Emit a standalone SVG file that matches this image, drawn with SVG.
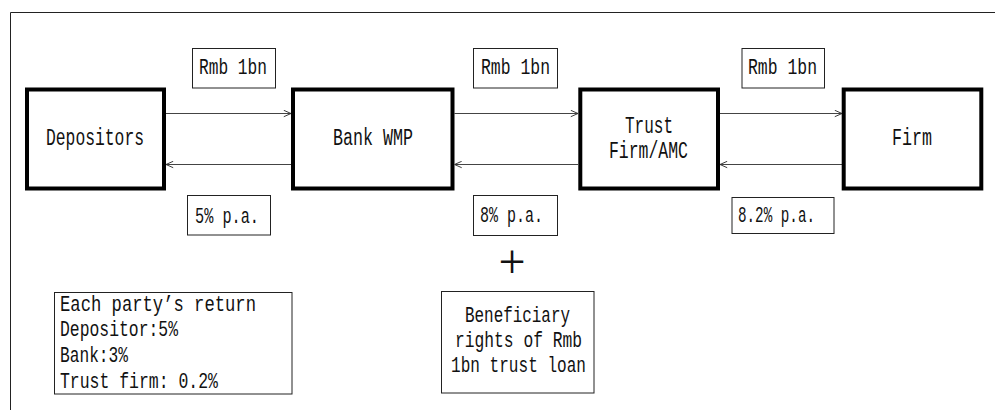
<svg xmlns="http://www.w3.org/2000/svg" width="995" height="410" viewBox="0 0 995 410">
<defs>
<marker id="ah" viewBox="0 0 10 10" refX="10" refY="5" markerWidth="8" markerHeight="8" markerUnits="userSpaceOnUse" orient="auto">
<path d="M1,1 L10,5 L1,9" fill="none" stroke="#333" stroke-width="1.2"/>
</marker>
<style>
.node{fill:#fff;stroke:#000;stroke-width:4}
.lbl{fill:#fff;stroke:#222;stroke-width:1}
.t{font-family:"Liberation Mono","Courier New",monospace;fill:#111}
.n{font-size:23px}
.s{font-size:21.5px}
.arr{stroke:#444;stroke-width:1.2;fill:none;marker-end:url(#ah)}
</style>
</defs>
<rect width="995" height="410" fill="#fff"/>
<g id="frame">
<path d="M10.5,410 V12.5 H995" fill="none" stroke="#222" stroke-width="1"/>
</g>
<g id="connectors">
<line class="arr" x1="166" y1="113.5" x2="291" y2="113.5"/>
<line class="arr" x1="291" y1="164.5" x2="166" y2="164.5"/>
<line class="arr" x1="454.5" y1="113.5" x2="578" y2="113.5"/>
<line class="arr" x1="578" y1="164.5" x2="454.5" y2="164.5"/>
<line class="arr" x1="720" y1="113.5" x2="842" y2="113.5"/>
<line class="arr" x1="842" y1="164.5" x2="720" y2="164.5"/>
</g>
<g id="depositors">
<rect class="node" x="27" y="89.5" width="137" height="99"/>
<text class="t n" x="46" y="145" textLength="98" lengthAdjust="spacingAndGlyphs">Depositors</text>
</g>
<g id="bank">
<rect class="node" x="293" y="89.5" width="159.5" height="99"/>
<text class="t n" x="333" y="145" textLength="80" lengthAdjust="spacingAndGlyphs">Bank WMP</text>
</g>
<g id="trust">
<rect class="node" x="580.3" y="89.5" width="137.7" height="99"/>
<text class="t n" x="625" y="132.5" textLength="48" lengthAdjust="spacingAndGlyphs">Trust</text>
<text class="t n" x="609" y="158" textLength="79" lengthAdjust="spacingAndGlyphs">Firm/AMC</text>
</g>
<g id="firm">
<rect class="node" x="843.7" y="89.5" width="137.6" height="99"/>
<text class="t n" x="892" y="145" textLength="40" lengthAdjust="spacingAndGlyphs">Firm</text>
</g>
<g id="lbl-rmb1">
<rect class="lbl" x="192.5" y="48.5" width="83" height="39.5"/>
<text class="t s" x="199" y="74" textLength="68" lengthAdjust="spacingAndGlyphs">Rmb 1bn</text>
</g>
<g id="lbl-rmb2">
<rect class="lbl" x="473.5" y="48.5" width="84" height="39.5"/>
<text class="t s" x="481" y="74" textLength="69" lengthAdjust="spacingAndGlyphs">Rmb 1bn</text>
</g>
<g id="lbl-rmb3">
<rect class="lbl" x="742" y="48.5" width="82.5" height="39.5"/>
<text class="t s" x="748" y="74" textLength="69" lengthAdjust="spacingAndGlyphs">Rmb 1bn</text>
</g>
<g id="lbl-5">
<rect class="lbl" x="187.5" y="195.5" width="83" height="39.5"/>
<text class="t s" x="195" y="222.5" textLength="64" lengthAdjust="spacingAndGlyphs">5% p.a.</text>
</g>
<g id="lbl-8">
<rect class="lbl" x="473.5" y="195.5" width="84" height="40"/>
<text class="t s" x="480" y="221.5" textLength="63" lengthAdjust="spacingAndGlyphs">8% p.a.</text>
</g>
<g id="lbl-82">
<rect class="lbl" x="732" y="197.5" width="102" height="36"/>
<text class="t s" x="738" y="221.5" textLength="77" lengthAdjust="spacingAndGlyphs">8.2% p.a.</text>
</g>
<g id="plus">
<text x="512" y="278" font-family="Liberation Serif, serif" font-size="48" fill="#111" text-anchor="middle">+</text>
</g>
<g id="returns">
<rect class="lbl" x="54.5" y="292.5" width="237.5" height="101.5"/>
<text class="t s" x="60" y="311" textLength="196" lengthAdjust="spacingAndGlyphs">Each party’s return</text>
<text class="t s" x="60" y="335.5" textLength="118" lengthAdjust="spacingAndGlyphs">Depositor:5%</text>
<text class="t s" x="60" y="362" textLength="68" lengthAdjust="spacingAndGlyphs">Bank:3%</text>
<text class="t s" x="60" y="387.5" textLength="158" lengthAdjust="spacingAndGlyphs">Trust firm: 0.2%</text>
</g>
<g id="beneficiary">
<rect class="lbl" x="441.5" y="291.5" width="152.5" height="101.5"/>
<text class="t s" x="465" y="322" textLength="105" lengthAdjust="spacingAndGlyphs">Beneficiary</text>
<text class="t s" x="455" y="347" textLength="127" lengthAdjust="spacingAndGlyphs">rights of Rmb</text>
<text class="t s" x="451" y="372" textLength="135" lengthAdjust="spacingAndGlyphs">1bn trust loan</text>
</g>
</svg>
